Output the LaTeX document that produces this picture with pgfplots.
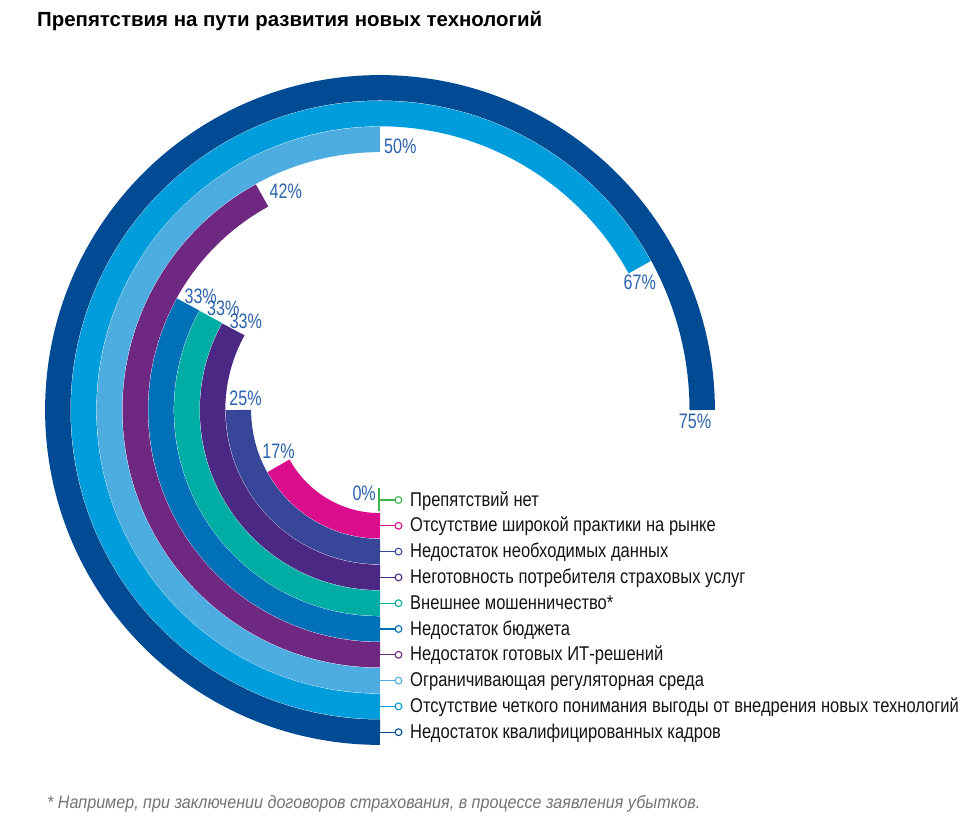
\documentclass[border=0pt]{standalone}
\usepackage{pgfplots}
\pgfplotsset{compat=1.18}
\usepackage{pgfplotstable}
\usepackage{fontspec}
\setmainfont{Liberation Sans}
\newfontfamily\condfont[FakeStretch=0.83]{Liberation Sans}
\newfontfamily\notefont[FakeStretch=0.9]{Liberation Sans}
\newfontfamily\numfont[FakeStretch=0.77]{Liberation Sans}

\definecolor{cGreen}{HTML}{3DB54A}
\definecolor{cMag}{HTML}{DA0E8C}
\definecolor{cIndigo}{HTML}{38469A}
\definecolor{cDPurple}{HTML}{4B2883}
\definecolor{cTeal}{HTML}{00ADA5}
\definecolor{cBlue}{HTML}{0070B8}
\definecolor{cPurple}{HTML}{6F2882}
\definecolor{cLBlue}{HTML}{4DADE0}
\definecolor{cBBlue}{HTML}{009DDC}
\definecolor{cNavy}{HTML}{004B93}
\definecolor{labblue}{HTML}{2B62AC}
\pgfplotsset{colormap={ringmap}{color=(cGreen) color=(cMag) color=(cIndigo) color=(cDPurple) color=(cTeal) color=(cBlue) color=(cPurple) color=(cLBlue) color=(cBBlue) color=(cNavy)}}
\pgfdeclareplotmark{nothing}{}

\pgfplotstableread{
idx value label
0 0 {Препятствий нет}
1 17 {Отсутствие широкой практики на рынке}
2 25 {Недостаток необходимых данных}
3 33 {Неготовность потребителя страховых услуг}
4 33 {Внешнее мошенничество*}
5 33 {Недостаток бюджета}
6 42 {Недостаток готовых ИТ-решений}
7 50 {Ограничивающая регуляторная среда}
8 67 {Отсутствие четкого понимания выгоды от внедрения новых технологий}
9 75 {Недостаток квалифицированных кадров}
}\rings

\begin{document}
\begin{tikzpicture}
\begin{axis}[x=1bp,y=1bp,xmin=0,xmax=978,ymin=-825,ymax=0,hide axis,clip=false]
\path (axis cs:0,0) rectangle (axis cs:978,-825);
% rings + legend connectors
\addplot[scatter, only marks, mark=nothing,
  visualization depends on={\thisrow{value}\as\val},
  visualization depends on={\thisrow{idx}\as\idxv},
  visualization depends on={90+25.8*\thisrow{idx}\as\rad},
  scatter/@pre marker code/.code={%
    \pgfmathsetmacro\endang{-90-3.6*\val}%
    \pgfmathtruncatemacro\ci{\idxv}%
    \begingroup
    \pgfplotsset{index of colormap={\ci of ringmap}}%
    \ifdim\val pt>0pt\relax
      \draw[line width=25.4bp,color=.] (0bp,0bp) arc[start angle=-90,end angle=\endang,radius=\rad bp];
    \else
      \draw[line width=1.6bp,color=.] (-1bp,-11.5bp) -- (-1bp,11.5bp);
    \fi
    \draw[line width=1.3bp,color=.] (0bp,0bp) -- (15bp,0bp);
    \draw[line width=1.1bp,color=.,fill=white] (18.5bp,0bp) circle[radius=3.4bp];
    \endgroup
    \scope
  },
  scatter/@post marker code/.code={\endscope},
] table[x expr=380, y expr=-410-90-25.8*\thisrow{idx}] {\rings};
% legend text
\addplot[draw=none, mark=none, point meta=explicit symbolic, nodes near coords,
  nodes near coords align=horizontal,
  every node near coord/.append style={anchor=mid west, xshift=30bp, yshift=-3.5bp, inner sep=0pt, font=\condfont\fontsize{20}{24}\selectfont, text=black!92}]
  table[x expr=380, y expr=-410-90-25.8*\thisrow{idx}, meta=label] {\rings};
% value labels
\addplot[scatter, only marks, mark=nothing,
  visualization depends on={\thisrow{value}\as\val},
  visualization depends on={90+25.8*\thisrow{idx}\as\rad},
  scatter/@pre marker code/.code={%
    \pgfmathsetmacro\endang{-90-3.6*\val}%
    \pgfmathtruncatemacro\anc{mod(\endang+90+720,360)}%
    \pgfmathtruncatemacro\vi{\val}%
    \pgfmathsetmacro\lr{\rad-7}%
    \path (0bp,\rad bp) ++(\endang:\lr bp) node[anchor=\anc,inner sep=4bp,text=labblue,font=\numfont\fontsize{21}{25}\selectfont] {\vi\%};
    \scope
  },
  scatter/@post marker code/.code={\endscope},
] table[x expr=380, y expr=-410-90-25.8*\thisrow{idx}] {\rings};
\node[anchor=base west,inner sep=0pt,font=\bfseries\fontsize{20.5}{24}\selectfont] at (axis cs:37,-27) {Препятствия на пути развития новых технологий};
\node[anchor=base west,inner sep=0pt,font=\notefont\itshape\fontsize{18}{21}\selectfont,text=black!55] at (axis cs:47,-809) {* Например, при заключении договоров страхования, в процессе заявления убытков.};
\end{axis}
\end{tikzpicture}
\end{document}
